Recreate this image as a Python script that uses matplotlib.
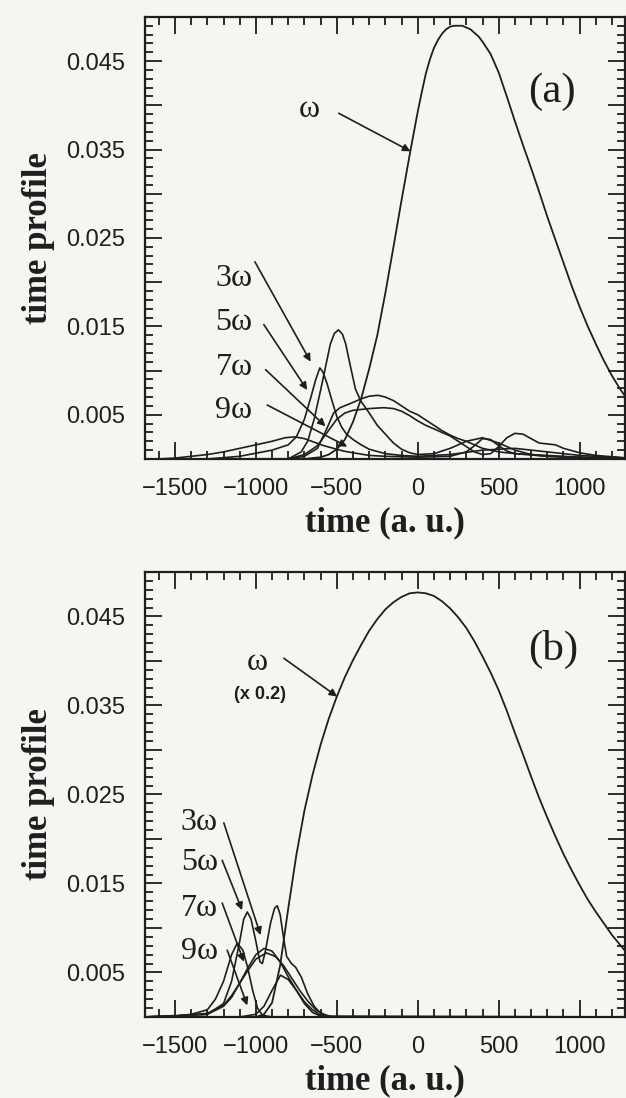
import numpy as np
import matplotlib
matplotlib.use('Agg')
import matplotlib.pyplot as plt
from matplotlib.ticker import MultipleLocator, FixedLocator, FixedFormatter

# ---------------- data ----------------
# panel (a): fundamental
t_w_a = [-1700, -700, -600, -550, -500, -450, -400, -350, -300, -250, -200, -150, -100, -50,
         0, 25, 50, 75, 100, 125, 150, 175, 200, 225, 250, 275, 300, 325, 350, 375, 400, 450,
         500, 550, 600, 650, 700, 750, 800, 850, 900, 950, 1000, 1050, 1100, 1150, 1200,
         1250, 1300]
w_a = [0.0, 0.0, 0.0002, 0.0005, 0.0011, 0.0022, 0.0042, 0.0068, 0.0102, 0.0140, 0.0188,
       0.0240, 0.0293, 0.0344, 0.0393, 0.0415, 0.0436, 0.0452, 0.0465, 0.0474, 0.0481,
       0.0486, 0.0489, 0.0490, 0.0490, 0.0490, 0.0488, 0.0486, 0.0482, 0.0478, 0.0472,
       0.0458, 0.0437, 0.0410, 0.0382, 0.0355, 0.0329, 0.0302, 0.0274, 0.0248, 0.0222,
       0.0196, 0.0172, 0.0150, 0.0130, 0.0111, 0.0094, 0.0079, 0.0066]

# panel (a): harmonics
t_h1_a = [-1700, -800, -720, -680, -640, -600, -570, -540, -515, -490, -465, -445, -415, -385,
          -350, -300, -250, -200, -150, -100, -50, 0, 100, 200, 300, 400, 500, 600, 700, 800,
          1000, 1300]
h1_a = [0.0, 0.0, 0.0008, 0.002, 0.0045, 0.0078, 0.0104, 0.0130, 0.0142, 0.0146, 0.0141,
        0.0130, 0.0104, 0.0079, 0.0065, 0.0052, 0.0038, 0.0028, 0.0018, 0.0011, 0.0007,
        0.0005, 0.0006, 0.0012, 0.0020, 0.0024, 0.0018, 0.0010, 0.0005, 0.0003, 0.0002, 0.0]

t_h2_a = [-1700, -1300, -1100, -900, -800, -750, -700, -660, -630, -605, -585, -560, -530,
          -500, -470, -440, -400, -350, -300, -200, -100, 0, 200, 400, 600, 800, 1000, 1300]
h2_a = [0.0, 0.0, 0.0003, 0.0010, 0.0016, 0.0025, 0.0045, 0.0070, 0.0090, 0.0103, 0.0098,
        0.0085, 0.0066, 0.0048, 0.0036, 0.0028, 0.0022, 0.0016, 0.0011, 0.0006, 0.0004,
        0.0003, 0.0005, 0.0010, 0.0012, 0.0008, 0.0004, 0.0001]

t_h3_a = [-1700, -800, -700, -620, -560, -520, -480, -440, -400, -350, -300, -245, -200, -150,
          -100, -50, 0, 50, 100, 150, 200, 250, 300, 350, 400, 500, 600, 800, 1000, 1300]
h3_a = [0.0, 0.0, 0.0003, 0.0012, 0.0035, 0.0052, 0.0058, 0.0061, 0.0064, 0.0068, 0.0071,
        0.0072, 0.0070, 0.0066, 0.0060, 0.0054, 0.0050, 0.0044, 0.0038, 0.0032, 0.0027,
        0.0023, 0.0020, 0.0016, 0.0012, 0.0008, 0.0006, 0.0004, 0.0002, 0.0]

t_h4_a = [-1700, -800, -700, -620, -560, -500, -450, -400, -350, -300, -210, -150, -100, -50,
          0, 50, 100, 150, 200, 250, 300, 350, 400, 450, 500, 550, 600, 650, 700, 750, 800,
          850, 900, 1000, 1100, 1300]
h4_a = [0.0, 0.0, 0.0005, 0.0015, 0.0030, 0.0045, 0.0052, 0.0055, 0.0056, 0.0057, 0.0058,
        0.0057, 0.0054, 0.0049, 0.0043, 0.0038, 0.0034, 0.0030, 0.0026, 0.0020, 0.0014,
        0.0008, 0.0005, 0.0006, 0.0014, 0.0024, 0.0029, 0.0028, 0.0023, 0.0018, 0.0017,
        0.0016, 0.0012, 0.0007, 0.0004, 0.0001]

t_h5_a = [-1700, -1600, -1500, -1400, -1300, -1200, -1100, -1000, -900, -820, -760, -700, -640,
          -580, -520, -460, -400, -300, -200, 0, 200, 300, 350, 400, 450, 500, 550, 600, 800,
          1000, 1300]
h5_a = [0.0, 0.0, 0.0001, 0.0003, 0.0005, 0.0008, 0.0012, 0.0016, 0.0020, 0.0024, 0.0025,
        0.0023, 0.0019, 0.0015, 0.0012, 0.0009, 0.0007, 0.0004, 0.0003, 0.0002, 0.0003,
        0.0008, 0.0015, 0.0023, 0.0022, 0.0015, 0.0009, 0.0006, 0.0003, 0.0001, 0.0]

# panel (b): fundamental (x 0.2)
t_w_b = [-1700, -1000, -950, -900, -850, -800, -750, -700, -650, -600, -550, -500, -450, -400,
         -350, -300, -250, -200, -150, -100, -50, 0, 50, 100, 150, 200, 250, 300, 350, 400,
         450, 500, 550, 600, 650, 700, 750, 800, 850, 900, 950, 1000, 1050, 1100, 1150, 1200,
         1250, 1300]
w_b = [0.0, 0.0, 0.0003, 0.0016, 0.0058, 0.0122, 0.0182, 0.0232, 0.0272, 0.0306, 0.0335,
       0.0360, 0.0382, 0.0401, 0.0418, 0.0434, 0.0447, 0.0458, 0.0466, 0.0472, 0.0476,
       0.0477, 0.0476, 0.0473, 0.0467, 0.0459, 0.0449, 0.0437, 0.0422, 0.0405, 0.0387,
       0.0367, 0.0344, 0.0319, 0.0295, 0.0270, 0.0246, 0.0224, 0.0203, 0.0183, 0.0165,
       0.0148, 0.0132, 0.0118, 0.0105, 0.0092, 0.0081, 0.0070]

# panel (b): harmonics
t_h1_b = [-1700, -1300, -1200, -1150, -1100, -1075, -1053, -1030, -1000, -975, -960, -940,
          -910, -885, -868, -850, -830, -810, -780, -755, -720, -680, -640, -600, -550, 1300]
h1_b = [0.0, 0.0003, 0.0015, 0.0040, 0.0085, 0.0110, 0.0118, 0.0110, 0.0085, 0.0062, 0.0060,
        0.0075, 0.0105, 0.0122, 0.0125, 0.0115, 0.0090, 0.0068, 0.0060, 0.0056, 0.0045,
        0.0026, 0.0012, 0.0004, 0.0, 0.0]

t_h2_b = [-1700, -1500, -1300, -1200, -1150, -1100, -1050, -1000, -950, -900, -850, -800,
          -750, -700, -650, -600, -550, 1300]
h2_b = [0.0, 0.0001, 0.0003, 0.0012, 0.0022, 0.0038, 0.0055, 0.0070, 0.0077, 0.0074, 0.0062,
        0.0045, 0.0030, 0.0017, 0.0008, 0.0002, 0.0, 0.0]

t_h3_b = [-1700, -1500, -1300, -1200, -1150, -1100, -1050, -1000, -935, -880, -830, -780,
          -730, -680, -630, -580, -530, 1300]
h3_b = [0.0, 0.0001, 0.0004, 0.0013, 0.0024, 0.0038, 0.0052, 0.0065, 0.0072, 0.0068, 0.0058,
        0.0044, 0.0030, 0.0018, 0.0008, 0.0003, 0.0, 0.0]

t_h4_b = [-1700, -1500, -1400, -1300, -1250, -1200, -1150, -1115, -1080, -1050, -1020, -990,
          -960, -900, 1300]
h4_b = [0.0, 0.0001, 0.0003, 0.0008, 0.0020, 0.0040, 0.0070, 0.0083, 0.0075, 0.0055, 0.0030,
        0.0010, 0.0002, 0.0, 0.0]

t_h5_b = [-1700, -1100, -1000, -950, -900, -848, -800, -750, -700, -650, -600, 1300]
h5_b = [0.0, 0.0, 0.0003, 0.0012, 0.0030, 0.0047, 0.0042, 0.0030, 0.0015, 0.0005, 0.0001, 0.0]

harm_labels = ['3\u03c9', '5\u03c9', '7\u03c9', '9\u03c9']
xticks = [-1500, -1000, -500, 0, 500, 1000]
xticklabels = ['\u22121500', '\u22121000', '\u2212500', '0', '500', '1000']

# label / arrow anchors (data coords)
arrows_a = [((-1006, 0.0223), (-662, 0.0110)),
            ((-951, 0.0152), (-683, 0.0078)),
            ((-940, 0.0101), (-570, 0.0037)),
            ((-930, 0.0061), (-436, 0.0014))]
label_pos_a = [(-1135, 0.0204), (-1135, 0.0154), (-1135, 0.0104), (-1135, 0.0055)]
arrows_b = [((-1198, 0.0218), (-971, 0.0092)),
            ((-1208, 0.0176), (-1085, 0.0120)),
            ((-1208, 0.0128), (-1074, 0.0062)),
            ((-1177, 0.0075), (-1053, 0.0013))]
label_pos_b = [(-1350, 0.0219), (-1350, 0.0173), (-1350, 0.0122), (-1350, 0.0073)]

ink = '#1e1e1e'
bg = '#f5f5f2'

fig = plt.figure(figsize=(6.26, 10.98), dpi=100, facecolor=bg)
ax_a = fig.add_axes([0.2316, 0.5820, 0.7668, 0.4026])
ax_b = fig.add_axes([0.2316, 0.0738, 0.7668, 0.4053])


def style_axis(ax):
    ax.set_facecolor(bg)
    ax.set_xlim(-1685, 1280)
    ax.set_ylim(0, 0.05)
    ax.xaxis.set_major_locator(FixedLocator(xticks))
    ax.xaxis.set_major_formatter(FixedFormatter(xticklabels))
    ax.xaxis.set_minor_locator(MultipleLocator(100))
    ax.yaxis.set_minor_locator(MultipleLocator(0.001))
    ylabs = []
    for v in np.arange(0, 0.0501, 0.005):
        ylabs.append(f'{v:.3f}' if round(v * 1000) % 10 == 5 else '')
    ax.set_yticks(np.arange(0, 0.0501, 0.005))
    ax.set_yticklabels(ylabs)
    ax.tick_params(which='both', direction='in', top=True, right=True, color=ink, width=1.3)
    ax.tick_params(which='major', length=12, pad=14, labelsize=17)
    ax.tick_params(which='minor', length=5.5)
    for lab in ax.get_xticklabels() + ax.get_yticklabels():
        lab.set_fontfamily('Liberation Sans')
        lab.set_color(ink)
    for s in ax.spines.values():
        s.set_linewidth(1.6)
        s.set_color(ink)
    ax.set_xlabel('time (a. u.)', fontfamily='Liberation Serif', fontweight='bold',
                  fontsize=25, color=ink, labelpad=4)
    ax.set_ylabel('time profile', fontfamily='Liberation Serif', fontweight='bold',
                  fontsize=25, color=ink, labelpad=8)


for ax in (ax_a, ax_b):
    style_axis(ax)

# panel (a)
ax_a.plot(t_w_a, w_a, color=ink, lw=1.3)
for t, h in [(t_h1_a, h1_a), (t_h2_a, h2_a), (t_h3_a, h3_a), (t_h4_a, h4_a), (t_h5_a, h5_a)]:
    ax_a.plot(t, h, color=ink, lw=1.2)

# panel (b)
ax_b.plot(t_w_b, w_b, color=ink, lw=1.3)
for t, h in [(t_h1_b, h1_b), (t_h2_b, h2_b), (t_h3_b, h3_b), (t_h4_b, h4_b), (t_h5_b, h5_b)]:
    ax_b.plot(t, h, color=ink, lw=1.2)

arrow_kw = dict(arrowstyle='-|>', color=ink, lw=1.2, mutation_scale=11, shrinkA=0, shrinkB=0)

# omega labels
ax_a.text(-673, 0.0395, '\u03c9', fontfamily='Liberation Serif', fontsize=23, color=ink,
          ha='center', va='center')
ax_a.annotate('', xy=(-45, 0.0348), xytext=(-488, 0.0391), arrowprops=arrow_kw)
ax_b.text(-992, 0.0398, '\u03c9', fontfamily='Liberation Serif', fontsize=23, color=ink,
          ha='center', va='center')
ax_b.text(-975, 0.0362, '(x 0.2)', fontfamily='Liberation Sans', fontweight='bold',
          fontsize=13, color=ink, ha='center', va='center')
ax_b.annotate('', xy=(-498, 0.0360), xytext=(-827, 0.0403), arrowprops=arrow_kw)

for ax, arrows, lpos in [(ax_a, arrows_a, label_pos_a), (ax_b, arrows_b, label_pos_b)]:
    for lab, (start, tip), (lx, ly) in zip(harm_labels, arrows, lpos):
        ax.text(lx, ly, lab, fontfamily='Liberation Serif', fontsize=23, color=ink,
                ha='center', va='center')
        ax.annotate('', xy=tip, xytext=start, arrowprops=arrow_kw)

ax_a.text(0.848, 0.83, '(a)', transform=ax_a.transAxes, fontfamily='Liberation Serif',
          fontsize=31, color=ink, ha='center', va='center')
ax_b.text(0.850, 0.825, '(b)', transform=ax_b.transAxes, fontfamily='Liberation Serif',
          fontsize=31, color=ink, ha='center', va='center')

fig.savefig('out.png', dpi=100, facecolor=bg)
